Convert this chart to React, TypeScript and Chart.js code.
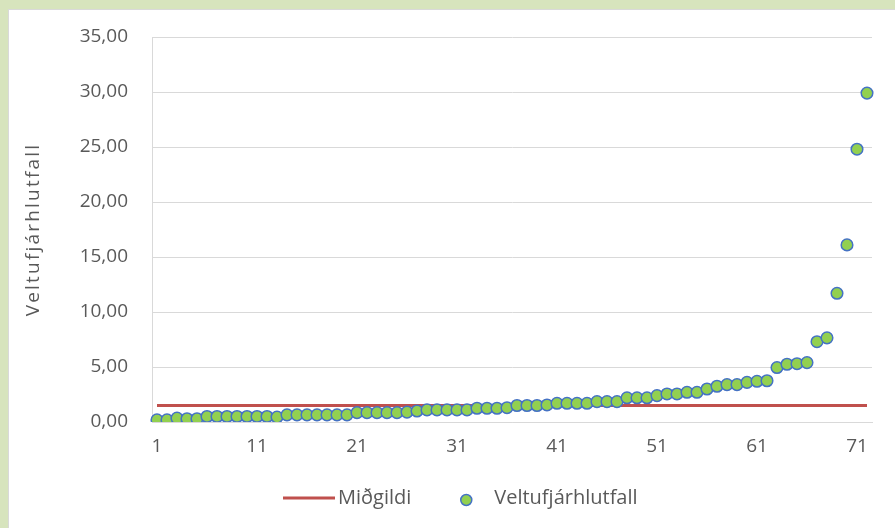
import React, { useEffect, useRef } from 'react';
import { Chart, registerables } from 'chart.js';

Chart.register(...registerables);

// ---- data ----
const categories: string[] = Array.from({ length: 72 }, (_, i) => String(i + 1));
const xTickLabels: string[] = ['1', '11', '21', '31', '41', '51', '61', '71'];
const yTicks: number[] = [0, 5, 10, 15, 20, 25, 30, 35];

const veltufjarhlutfall: number[] = [
  0.2, 0.2, 0.35, 0.3, 0.3, 0.5, 0.5, 0.5, 0.5, 0.5,
  0.5, 0.5, 0.45, 0.65, 0.65, 0.65, 0.65, 0.65, 0.65, 0.65,
  0.85, 0.85, 0.85, 0.85, 0.85, 0.9, 1.0, 1.1, 1.1, 1.1,
  1.1, 1.1, 1.25, 1.25, 1.25, 1.3, 1.5, 1.5, 1.5, 1.55,
  1.7, 1.7, 1.7, 1.7, 1.85, 1.85, 1.85, 2.2, 2.2, 2.2,
  2.4, 2.55, 2.55, 2.7, 2.7, 3.0, 3.25, 3.4, 3.4, 3.6,
  3.7, 3.75, 4.95, 5.25, 5.3, 5.4, 7.3, 7.65, 11.7, 16.1,
  24.8, 29.9,
];
const midgildiValue = 1.5;
const midgildi: number[] = categories.map(() => midgildiValue);

const seriesNames = ['Miðgildi', 'Veltufjárhlutfall'];
const yAxisTitle = 'Veltufjárhlutfall';

const TEXT = '#595959';
const FONT = '"Open Sans", "Liberation Sans", sans-serif';

const customTexts = {
  id: 'customTexts',
  afterDraw(chart: any) {
    const ctx: CanvasRenderingContext2D = chart.ctx;
    const area = chart.chartArea;
    // y-axis title
    ctx.save();
    ctx.fillStyle = TEXT;
    ctx.font = `19px ${FONT}`;
    (ctx as any).letterSpacing = '2.2px';
    ctx.translate(34, (area.top + area.bottom) / 2);
    ctx.rotate(-Math.PI / 2);
    ctx.textAlign = 'center';
    ctx.textBaseline = 'middle';
    ctx.fillText(yAxisTitle, 0, 0);
    ctx.restore();

    // legend
    ctx.save();
    ctx.font = `20px ${FONT}`;
    ctx.fillStyle = TEXT;
    ctx.textBaseline = 'middle';
    ctx.textAlign = 'left';
    const ly = 498;
    let x = 283;
    ctx.strokeStyle = '#c0504d';
    ctx.lineWidth = 3;
    ctx.beginPath();
    ctx.moveTo(x, ly);
    ctx.lineTo(x + 52, ly);
    ctx.stroke();
    x += 55;
    ctx.fillText(seriesNames[0], x, ly);
    x += ctx.measureText(seriesNames[0]).width;
    const cx = x + 55;
    ctx.beginPath();
    ctx.arc(cx, ly + 2, 5.5, 0, Math.PI * 2);
    ctx.fillStyle = '#92d050';
    ctx.fill();
    ctx.strokeStyle = '#4472c4';
    ctx.lineWidth = 1.5;
    ctx.stroke();
    ctx.fillStyle = TEXT;
    ctx.fillText(seriesNames[1], cx + 28, ly);
    ctx.restore();
  },
};

export default function App() {
  const ref = useRef<HTMLCanvasElement | null>(null);

  useEffect(() => {
    if (!ref.current) return;
    const chart = new Chart(ref.current, {
      type: 'line',
      data: {
        labels: categories,
        datasets: [
          {
            label: seriesNames[0],
            data: midgildi,
            borderColor: '#c0504d',
            backgroundColor: '#c0504d',
            borderWidth: 3,
            pointRadius: 0,
            pointHoverRadius: 0,
            order: 2,
          },
          {
            label: seriesNames[1],
            data: veltufjarhlutfall,
            showLine: false,
            pointRadius: 5.8,
            pointBackgroundColor: '#92d050',
            pointBorderColor: '#4472c4',
            pointBorderWidth: 1.5,
            backgroundColor: '#92d050',
            borderColor: '#4472c4',
            order: 1,
          },
        ],
      },
      options: {
        responsive: false,
        animation: false,
        events: [],
        layout: { padding: { top: 37, right: 23, bottom: 0, left: 0 } },
        plugins: {
          legend: { display: false },
          tooltip: { enabled: false },
          title: { display: false },
        },
        scales: {
          x: {
            type: 'category',
            offset: true,
            grid: { display: false, drawTicks: false },
            border: { display: true, color: '#d9d9d9', width: 1 },
            ticks: {
              autoSkip: false,
              maxRotation: 0,
              minRotation: 0,
              padding: 13,
              color: TEXT,
              font: { family: FONT, size: 19 },
              callback: (_v: any, i: number) =>
                xTickLabels.includes(categories[i]) ? categories[i] : null,
            },
            afterFit: (s: any) => {
              s.height = 106;
            },
          },
          y: {
            min: 0,
            max: 35,
            afterBuildTicks: (s: any) => {
              s.ticks = yTicks.map((v) => ({ value: v }));
            },
            grid: { color: '#d9d9d9', lineWidth: 1, drawTicks: false },
            border: { display: true, color: '#d9d9d9', width: 1 },
            ticks: {
              padding: 24,
              color: TEXT,
              font: { family: FONT, size: 19 },
              callback: (v: any) => Number(v).toFixed(2).replace('.', ','),
            },
            afterFit: (s: any) => {
              s.width = 152;
            },
          },
        },
      },
      plugins: [customTexts],
    });
    return () => chart.destroy();
  }, []);

  return (
    <div
      style={{
        position: 'absolute',
        left: 0,
        top: 0,
        width: 895,
        height: 528,
        background: '#d7e4bd',
        overflow: 'hidden',
      }}
    >
      <div
        style={{
          position: 'absolute',
          left: 8,
          top: 9,
          right: 0,
          bottom: 0,
          background: '#ffffff',
          borderLeft: '1px solid #d9d9d9',
          borderTop: '1px solid #d9d9d9',
        }}
      />
      <canvas
        ref={ref}
        width={895}
        height={528}
        style={{ position: 'absolute', left: 0, top: 0, width: 895, height: 528 }}
      />
    </div>
  );
}
